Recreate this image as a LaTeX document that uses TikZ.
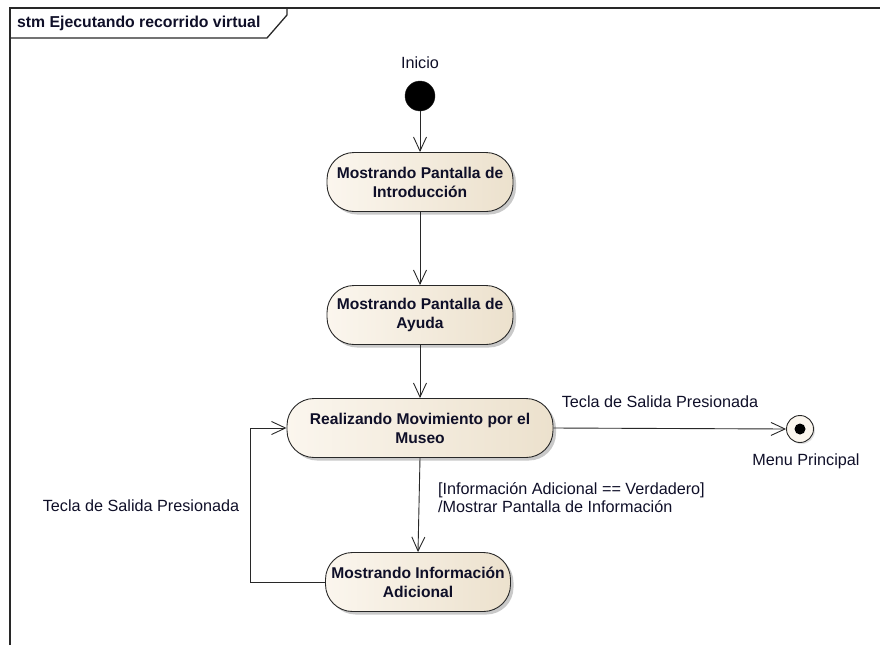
\documentclass[tikz,border=0pt]{standalone}
\usepackage{fontspec}
\setmainfont{Liberation Sans}
\usetikzlibrary{arrows.meta,shadows}
\definecolor{stfillA}{RGB}{251,246,238}
\definecolor{stfillB}{RGB}{236,225,205}
\definecolor{lineC}{RGB}{40,40,40}
\definecolor{txtC}{RGB}{15,15,40}
\begin{document}
\begin{tikzpicture}[x=1pt,y=-1pt,
  state/.style={rectangle, rounded corners=27pt, draw=lineC, line width=0.9pt,
    left color=stfillA, right color=stfillB, align=center, text=txtC,
    font=\fontsize{15.6}{19}\selectfont\bfseries, inner sep=0pt,
    minimum height=59pt,
    drop shadow={shadow xshift=3pt, shadow yshift=-3pt, opacity=0.3, fill=black!70}},
  lbl/.style={font=\fontsize{16.2}{18.5}\selectfont, text=txtC, inner sep=0pt},
  tr/.style={draw=lineC, line width=0.9pt, -{Straight Barb[length=14pt,width=13pt,line width=0.9pt]}},
  frm/.style={draw=lineC, line width=1.3pt}
]
\useasboundingbox (0,0) rectangle (880,645);

% frame and name tab
\draw[frm] (10,645) -- (10,8) -- (880,8);
\draw[frm] (10,38) -- (267,38) -- (287,15) -- (287,8);
\node[anchor=west, inner sep=0pt, font=\fontsize{15.8}{18}\selectfont\bfseries, text=txtC] (title) at (17,23) {stm Ejecutando recorrido virtual};

% pseudo states
\node[circle, fill=black, draw=lineC, minimum size=30pt, inner sep=0pt] (init) at (420,96) {};
\node[lbl] (initlbl) at (420,63) {Inicio};

\node[circle, draw=lineC, line width=0.9pt, fill=stfillA, minimum size=27pt, inner sep=0pt,
  drop shadow={shadow xshift=1.5pt, shadow yshift=-1.5pt, opacity=0.25}] (fin) at (800,429) {};
\fill[black] (fin.center) circle (5.5pt);
\node[lbl] (finlbl) at (806,461) {Menu Principal};

% states
\node[state, minimum width=186pt] (s1) at (420,182) {Mostrando Pantalla de\\Introducción};
\node[state, minimum width=186pt] (s2) at (420,315) {Mostrando Pantalla de\\Ayuda};
\node[state, minimum width=266pt] (s3) at (420,428) {Realizando Movimiento por el\\Museo};
\node[state, minimum width=185pt] (s4) at (418,582) {Mostrando Información\\Adicional};

% transitions
\draw[tr] (init) -- (s1);
\draw[tr] (s1) -- (s2);
\draw[tr] (s2) -- (s3);
\draw[tr] (s3.east) -- (fin.west);
\draw[tr] (s3.south) -- (s4.north);
\draw[tr] (s4.west) -- ++(-75,0) |- (s3.west);

% transition labels
\node[lbl] (exitlbl) at (660,402) {Tecla de Salida Presionada};
\node[lbl] (looplbl) at (141,506) {Tecla de Salida Presionada};
\node[lbl, anchor=north west, align=left] (guardlbl) at (438,482) {[Información Adicional == Verdadero]\\/Mostrar Pantalla de Información};
\end{tikzpicture}
\end{document}
